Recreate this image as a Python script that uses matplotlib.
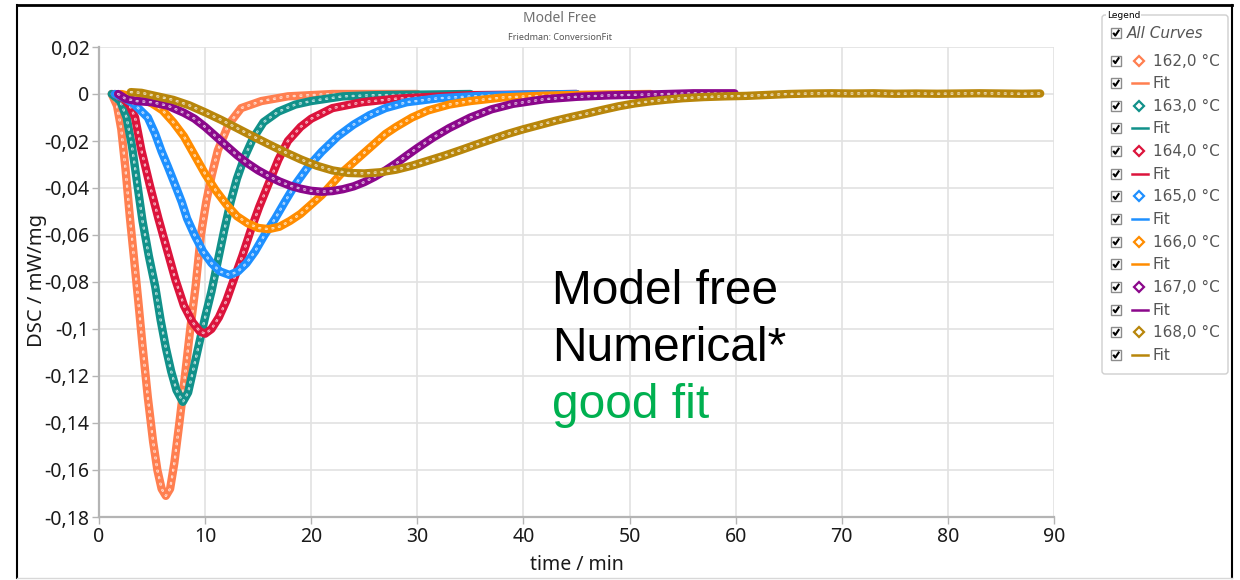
import numpy as np
import matplotlib
matplotlib.use('Agg')
import matplotlib.pyplot as plt
from matplotlib.patches import Rectangle, FancyBboxPatch
from matplotlib.ticker import FuncFormatter, MultipleLocator

#%% data (time in min, DSC in mW/mg)
temps = ['162,0 °C', '163,0 °C', '164,0 °C', '165,0 °C', '166,0 °C', '167,0 °C', '168,0 °C']
colors = ['#ff7f50', '#11918a', '#dc143c', '#1e90ff', '#ff8c00', '#8b078b', '#b8860b']

t162 = [1.2, 1.7, 2.1, 2.5, 2.9, 3.3, 3.7, 4.1, 4.6, 5.1, 5.5, 5.9, 6.3, 6.7, 7.1, 7.6, 8.1, 8.6,
        9.1, 9.6, 10.1, 10.6, 11.2, 12.2, 13.4, 15.3, 17.8, 22, 30]
y162 = [0, -0.005, -0.015, -0.032, -0.052, -0.070, -0.088, -0.107, -0.129, -0.148, -0.160, -0.168,
        -0.171, -0.168, -0.157, -0.139, -0.120, -0.100, -0.082, -0.060, -0.046, -0.035, -0.024,
        -0.013, -0.006, -0.003, -0.001, 0, 0]

t163 = [1.2, 2.0, 2.6, 3.1, 3.6, 4.1, 4.7, 5.3, 5.8, 6.3, 6.8, 7.3, 7.9, 8.4, 8.9, 9.4, 10.0, 10.6,
        11.2, 11.8, 12.4, 13.0, 13.7, 14.5, 15.5, 16.9, 18.5, 20, 23, 26, 35]
y163 = [0, -0.003, -0.010, -0.022, -0.038, -0.054, -0.069, -0.082, -0.096, -0.108, -0.118, -0.126,
        -0.131, -0.127, -0.117, -0.107, -0.095, -0.084, -0.071, -0.058, -0.046, -0.036, -0.027,
        -0.019, -0.012, -0.0075, -0.0045, -0.003, -0.001, -0.0005, 0]

t164 = [1.5, 2.3, 2.9, 3.4, 4.0, 4.8, 5.6, 6.4, 7.2, 8.0, 8.8, 9.5, 10.0, 10.6, 11.3, 12.0, 12.7,
        13.5, 14.3, 15.1, 16.0, 16.9, 17.8, 19.0, 20.0, 22, 24.8, 28, 31, 35, 45]
y164 = [0, -0.002, -0.005, -0.010, -0.024, -0.039, -0.053, -0.066, -0.079, -0.090, -0.097, -0.101,
        -0.102, -0.100, -0.095, -0.088, -0.079, -0.069, -0.058, -0.048, -0.038, -0.028, -0.020,
        -0.014, -0.0105, -0.006, -0.0035, -0.002, -0.0013, -0.0005, 0]

t165 = [1.5, 2.5, 3.2, 3.7, 4.6, 5.3, 5.9, 6.5, 7.2, 7.8, 8.3, 9.0, 9.8, 10.6, 11.4, 12.3, 13.1,
        13.9, 14.7, 15.6, 16.6, 17.5, 18.5, 19.7, 21.0, 22.5, 24.0, 25.5, 27.0, 29, 32, 36, 40, 45]
y165 = [0, -0.002, -0.004, -0.006, -0.010, -0.017, -0.0245, -0.031, -0.039, -0.046, -0.053, -0.060,
        -0.067, -0.072, -0.0755, -0.077, -0.0755, -0.072, -0.067, -0.060, -0.053, -0.046, -0.0385,
        -0.031, -0.0245, -0.018, -0.013, -0.009, -0.006, -0.0035, -0.0018, -0.0008, -0.0003, 0]

t166 = [2.1, 3.0, 4.0, 5.0, 6.0, 7.0, 8.0, 9.0, 10.0, 11.0, 12.0, 13.0, 14.0, 15.0, 16.0, 17.0,
        18.0, 19.0, 20.0, 21.0, 22.0, 23.0, 24.0, 25.0, 26.0, 27.0, 28.0, 29.5, 31, 33, 35, 38, 42,
        46, 52]
y166 = [0, -0.001, -0.002, -0.004, -0.007, -0.012, -0.018, -0.026, -0.034, -0.041, -0.047, -0.052,
        -0.055, -0.057, -0.0575, -0.0565, -0.054, -0.051, -0.047, -0.043, -0.038, -0.033, -0.029,
        -0.025, -0.021, -0.017, -0.014, -0.010, -0.007, -0.0045, -0.003, -0.0015, -0.0007, -0.0003, 0]

t167 = [1.8, 2.5, 3.5, 5.0, 6.5, 8.0, 9.0, 10.0, 11.0, 12.0, 13.0, 14.0, 15.0, 16.0, 17.0, 18.0,
        19.0, 20.0, 21.0, 22.0, 23.0, 24.0, 25.0, 26.0, 27.0, 28.0, 29.0, 30.0, 31.5, 33.0, 35.0,
        37.0, 39.0, 42.0, 45.0, 48.0, 52.0, 56.0, 59.9]
y167 = [0, -0.002, -0.003, -0.0035, -0.005, -0.008, -0.0105, -0.014, -0.018, -0.022, -0.026,
        -0.0295, -0.0325, -0.035, -0.0372, -0.039, -0.0403, -0.0412, -0.0416, -0.0413, -0.0405,
        -0.0393, -0.0375, -0.0352, -0.0325, -0.0295, -0.0262, -0.023, -0.0185, -0.0145, -0.0100,
        -0.0065, -0.0042, -0.0022, -0.0012, -0.0006, -0.0002, 0.0003, 0.0003]

t168 = [3.0, 4.0, 5.5, 7.0, 8.5, 10.0, 11.5, 13.0, 14.5, 16.0, 17.5, 19.0, 20.5, 22.0, 23.5, 25.0,
        26.5, 28.0, 29.5, 31.0, 32.5, 34.0, 35.5, 37.0, 38.5, 40.0, 41.5, 43.0, 44.5, 46.0, 47.5,
        49.0, 50.5, 52.0, 53.5, 55.0, 57.0, 59.0, 61.0, 63.0, 65.0, 67.0, 69.0, 71.0, 73.0, 75.0,
        77.0, 79.0, 81.0, 83.0, 85.0, 87.0, 88.7]
y168 = [0.0008, 0.0005, -0.001, -0.0025, -0.0048, -0.0078, -0.011, -0.0145, -0.018, -0.0214,
        -0.0247, -0.0278, -0.0305, -0.0325, -0.0336, -0.0338, -0.0333, -0.0322, -0.0305, -0.0284,
        -0.0263, -0.0240, -0.0216, -0.0193, -0.0170, -0.0150, -0.0132, -0.0114, -0.0098, -0.0083,
        -0.0067, -0.0052, -0.0040, -0.0031, -0.0024, -0.0018, -0.0013, -0.0010, -0.0008, -0.0004,
        0.0, 0.0002, 0.0003, 0.0002, 0.0003, 0.0001, 0.0002, 0.0001, 0.0002, 0.0003, 0.0002, 0.0001,
        0.0002]

times = [t162, t163, t164, t165, t166, t167, t168]
dsc = [y162, y163, y164, y165, y166, y167, y168]


def commaFormat(v, pos):
    s = ('%.2f' % v).rstrip('0').rstrip('.')
    if s in ('-0', ''):
        s = '0'
    return s.replace('.', ',')


#%% figure and main axes
W, H = 1240, 580
fig = plt.figure(figsize=(W / 100, H / 100), dpi=100)
ax = fig.add_axes([99 / W, 1 - 517 / H, (1054 - 99) / W, (517 - 47) / H])

for t, y, c in zip(times, dsc, colors):
    # measured points: thick band with white centres, then the fit line
    ax.plot(t, y, color=c, lw=6, solid_joinstyle='round', solid_capstyle='round', zorder=3)
    ax.plot(t, y, color='white', lw=1.6, ls=(0, (0.6, 2.4)), dash_capstyle='round', zorder=3)
    ax.plot(t, y, color=c, lw=0.8, alpha=0.6, zorder=3)

ax.set_xlim(0, 90)
ax.set_ylim(-0.18, 0.02)
ax.xaxis.set_major_locator(MultipleLocator(10))
ax.yaxis.set_major_locator(MultipleLocator(0.02))
ax.yaxis.set_major_formatter(FuncFormatter(commaFormat))
ax.grid(True, color='#e2e2e2', lw=1.2)
ax.set_axisbelow(True)
for s in ['top', 'right']:
    ax.spines[s].set_visible(False)
for s in ['left', 'bottom']:
    ax.spines[s].set_color('#b4b4b4')
    ax.spines[s].set_linewidth(1.6)
ax.tick_params(direction='out', length=5, width=1, color='#b4b4b4', labelsize=14,
               labelcolor='#1a1a1a', pad=2)
for lab in ax.get_xticklabels() + ax.get_yticklabels():
    lab.set_family('Noto Sans')

#%% overlay in pixel coordinates for frame, titles, notes and legend
ov = fig.add_axes([0, 0, 1, 1], zorder=5)
ov.set_xlim(0, W)
ov.set_ylim(H, 0)
ov.axis('off')
ov.patch.set_visible(False)

ov.plot([17, 17], [5, 578], color='black', lw=1.5)
ov.plot([17, 1232], [5, 5], color='black', lw=2)
ov.plot([1232, 1232], [5, 578], color='black', lw=1.5)
ov.plot([17, 1232], [578, 578], color='#d8d8d8', lw=1)

ov.text(560, 19, 'Model Free', ha='center', va='center', fontsize=10, color='#707070', family='Noto Sans')
ov.text(560, 37, 'Friedman: ConversionFit', ha='center', va='center', fontsize=6.5, color='#555555',
        family='Noto Sans')
ov.text(37, 280, 'DSC / mW/mg', rotation=90, ha='center', va='center', fontsize=14.5, color='#1a1a1a',
        family='Noto Sans')
ov.text(577, 565, 'time / min', ha='center', va='center', fontsize=14, color='#1a1a1a', family='Noto Sans')

ov.text(552, 304, 'Model free', fontsize=34.5, family='Liberation Sans', va='baseline', color='black')
ov.text(552, 361, 'Numerical*', fontsize=34.5, family='Liberation Sans', va='baseline', color='black')
ov.text(552, 418, 'good fit', fontsize=34.5, family='Liberation Sans', va='baseline', color='#00b050')

# legend panel
ov.add_patch(FancyBboxPatch((1102, 15), 126, 359, boxstyle='round,pad=0,rounding_size=3',
                            fc='white', ec='#cfcfcf', lw=1))
ov.text(1107, 15, 'Legend', fontsize=6.5, va='center', ha='left', color='black',
        bbox=dict(fc='white', ec='none', pad=0.6))


def checkbox(x, y):
    ov.add_patch(Rectangle((x, y - 5), 10, 10, fc='white', ec='#8c8c8c', lw=1))
    ov.plot([x + 2.2, x + 4.3, x + 8.2], [y - 0.2, y + 2.6, y - 3.2], color='black', lw=1.5,
            solid_capstyle='butt')


checkbox(1111, 33)
ov.text(1127, 34, 'All Curves', fontsize=11, style='italic', color='#555555', va='center',
        family='DejaVu Sans')

rowY = 60.5
for temp, c in zip(temps, colors):
    checkbox(1111, rowY)
    ov.plot([1139], [rowY], marker='D', ms=5, mfc='white', mec=c, mew=1.6)
    ov.text(1153, rowY + 0.5, temp, fontsize=11, color='#555555', va='center', family='DejaVu Sans')
    rowY += 22.65
    checkbox(1111, rowY)
    ov.plot([1132, 1148], [rowY, rowY], color=c, lw=1.8)
    ov.text(1153, rowY + 0.5, 'Fit', fontsize=11, color='#555555', va='center', family='DejaVu Sans')
    rowY += 22.65

fig.savefig('out.png', dpi=100)
